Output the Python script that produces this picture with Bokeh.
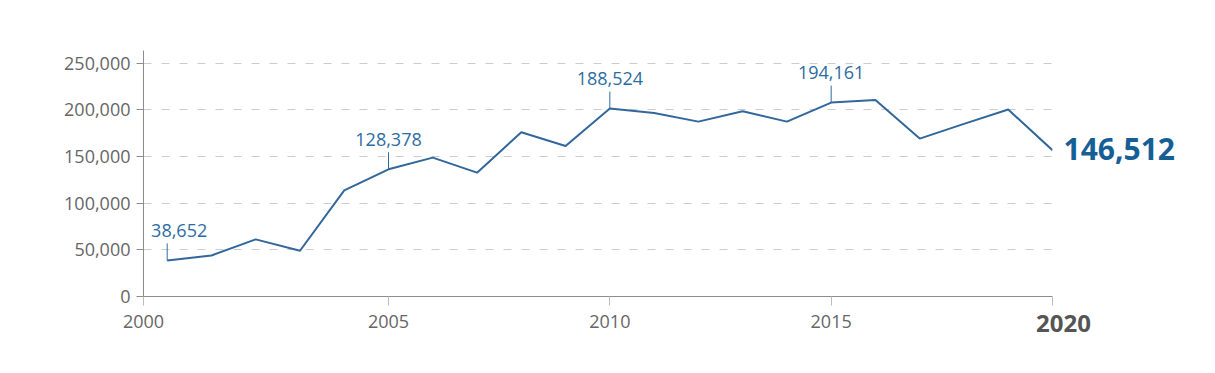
from bokeh.plotting import figure
from bokeh.models import Range1d, FixedTicker, NumeralTickFormatter
from bokeh.core.properties import value
from bokeh.embed import file_html
from bokeh.resources import INLINE

years = list(range(2000, 2021))
values = [38652, 44000, 61200, 49000, 113700, 136300, 148800, 132700, 176000, 161300,
          201400, 196700, 187400, 198500, 187400, 207800, 210600, 169200, 185000, 200300, 156700]

ann_years = [2000, 2005, 2010, 2015]
ann_labels = ["38,652", "128,378", "188,524", "194,161"]
last_label = "146,512"

y_ticks = [0, 50000, 100000, 150000, 200000, 250000]
x_tick_years = [2005, 2010, 2015, 2020]
first_tick_label = "2000"
last_tick_label = "2020"

X0 = 1999.465
YMAX = 263600
FRAME_H = 246
px = YMAX / FRAME_H

LINE_C = "#31679b"
ANN_C = "#2d6ca2"
BOLD_C = "#165e96"
GREY_T = "#666666"

p = figure(width=1207, height=365, output_backend="svg", toolbar_location=None,
           x_range=Range1d(X0, 2020), y_range=Range1d(0, YMAX),
           min_border_left=143, min_border_right=155, min_border_top=50, min_border_bottom=69)
p.outline_line_color = None
p.background_fill_color = "white"

# axes
p.yaxis.ticker = FixedTicker(ticks=y_ticks)
p.yaxis.formatter = NumeralTickFormatter(format="0,0")
p.yaxis.major_label_text_font = "Open Sans"
p.yaxis.major_label_text_font_size = "18px"
p.yaxis.major_label_text_color = GREY_T
p.yaxis.axis_line_color = "#8c8c8c"
p.yaxis.major_tick_line_color = "#8c8c8c"
p.yaxis.major_tick_out = 7
p.yaxis.major_tick_in = 0
p.yaxis.minor_tick_line_color = None
p.yaxis.major_label_standoff = 6

p.xaxis.ticker = FixedTicker(ticks=[X0] + x_tick_years)
p.xaxis.major_label_overrides = {X0: first_tick_label, 2020: ""}
p.xaxis.major_label_text_font = "Open Sans"
p.xaxis.major_label_text_font_size = "18px"
p.xaxis.major_label_text_color = GREY_T
p.xaxis.axis_line_color = "#8c8c8c"
p.xaxis.major_tick_line_color = "#bdbdbd"
p.xaxis.major_tick_out = 9
p.xaxis.major_tick_in = 0
p.xaxis.minor_tick_line_color = None
p.xaxis.major_label_standoff = 9

p.xgrid.grid_line_color = None
p.ygrid.ticker = FixedTicker(ticks=y_ticks[1:])
p.ygrid.grid_line_color = "#cccccc"
p.ygrid.grid_line_dash = "8 10"
p.ygrid.grid_line_width = 1

# data line
p.line(years, values, line_color=LINE_C, line_width=2)

# annotations
ann_vals = [values[years.index(y)] for y in ann_years]
p.segment(x0=ann_years, y0=ann_vals, x1=ann_years, y1=[v + 17 * px for v in ann_vals],
          line_color=ANN_C, line_width=1)
x_offs = [12, 0, 0, 0]
p.text(x=ann_years, y=ann_vals, text=ann_labels, x_offset=x_offs, y_offset=-30,
       text_align="center", text_baseline="middle", text_font=value("Open Sans"),
       text_font_size="18px", text_color=ANN_C)

r1 = p.text(x=[years[-1]], y=[values[-1]], text=[last_label], x_offset=11, y_offset=-1,
            text_align="left", text_baseline="middle", text_font=value("Open Sans"),
            text_font_style="bold", text_font_size="30px", text_color=BOLD_C)
r1.level = "overlay"
r2 = p.text(x=[years[-1]], y=[0], text=[last_tick_label], x_offset=11, y_offset=27,
            text_align="center", text_baseline="middle", text_font=value("Open Sans"),
            text_font_style="bold", text_font_size="24px", text_color="#555555")
r2.level = "overlay"

open("out.html", "w").write(file_html(p, INLINE))
